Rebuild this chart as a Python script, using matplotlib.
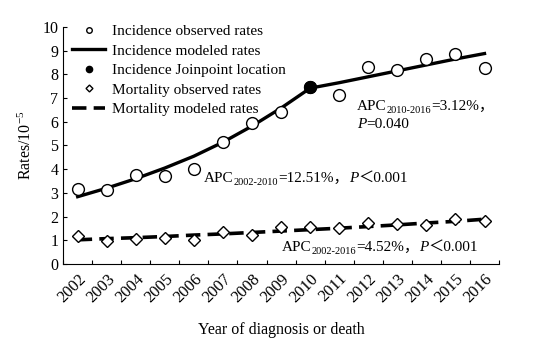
import matplotlib
matplotlib.use('Agg')
import matplotlib.pyplot as plt
from matplotlib import transforms
from matplotlib.lines import Line2D

plt.rcParams['font.family'] = ['Liberation Serif', 'Noto Sans CJK SC']
plt.rcParams['mathtext.fontset'] = 'custom'
plt.rcParams['mathtext.rm'] = 'Liberation Serif'
plt.rcParams['mathtext.it'] = 'Liberation Serif:italic'

years = ['2002', '2003', '2004', '2005', '2006', '2007', '2008', '2009',
         '2010', '2011', '2012', '2013', '2014', '2015', '2016']
inc_obs = [3.15, 3.12, 3.75, 3.73, 4.0, 5.16, 5.94, 6.43, 7.45, 7.13,
           8.3, 8.19, 8.65, 8.86, 8.28]
inc_model = [2.84, 3.2, 3.6, 4.05, 4.55, 5.14, 5.82, 6.58, 7.42, 7.65,
             7.9, 8.15, 8.4, 8.65, 8.88]
joinpoint_year = '2010'
joinpoint_value = 7.45
mort_obs = [1.2, 0.96, 1.05, 1.08, 1.01, 1.34, 1.22, 1.55, 1.56, 1.5,
            1.72, 1.67, 1.65, 1.9, 1.81]
mort_model = [1.02, 1.07, 1.11, 1.16, 1.22, 1.27, 1.33, 1.39, 1.45, 1.51,
              1.58, 1.65, 1.73, 1.8, 1.89]

fig = plt.figure(figsize=(5.49, 3.49), dpi=100)
ax = fig.add_axes([0.115, 0.2436, 0.794, 0.679])

x = list(range(len(years)))
jx = years.index(joinpoint_year)

ax.plot(x, inc_model, color='black', lw=2.4, zorder=2)
ax.plot(x, mort_model, color='black', lw=2.6, dashes=(4, 2), zorder=2)
ax.plot(x, inc_obs, 'o', ms=8.5, mfc='white', mec='black', mew=1.0, zorder=3)
ax.plot(x, mort_obs, 'D', ms=6.5, mfc='white', mec='black', mew=1.0, zorder=3)
ax.plot([jx], [joinpoint_value], 'o', ms=8.5, color='black', zorder=4)

ax.set_xlim(-0.5, len(years) - 0.5)
ax.set_ylim(0, 10)
ax.set_yticks(range(0, 11))
ax.set_xticks([i - 0.5 for i in range(len(years) + 1)])
ax.set_xticklabels([])
ax.set_xticks(x, minor=True)
ax.set_xticklabels(years, minor=True, rotation=45, ha='right', va='top',
                   rotation_mode='anchor', fontsize=12)
ax.tick_params(axis='x', which='minor', length=0, pad=5)
ax.tick_params(axis='both', which='major', direction='in', length=3,
               labelsize=11.5)
ax.spines['top'].set_visible(False)
ax.spines['right'].set_visible(False)

ax.set_xlabel('Year of diagnosis or death', fontsize=11.5, labelpad=12)
ax.set_ylabel('Rates/10$^{-5}$', fontsize=11.5, labelpad=5)

handles = [
    Line2D([], [], marker='o', ls='none', ms=4, mfc='white', mec='black'),
    Line2D([], [], color='black', lw=2.4),
    Line2D([], [], marker='o', ls='none', ms=4.5, color='black'),
    Line2D([], [], marker='D', ls='none', ms=3.5, mfc='white', mec='black'),
    Line2D([], [], color='black', lw=2.6, dashes=(4, 2)),
]
labels = ['Incidence observed rates', 'Incidence modeled rates',
          'Incidence Joinpoint location', 'Mortality observed rates',
          'Mortality modeled rates']
ax.legend(handles, labels, loc='upper left', bbox_to_anchor=(0.02, 1.01),
          frameon=False, fontsize=11, handlelength=2.2, handletextpad=0.4,
          labelspacing=0.38, borderpad=0, borderaxespad=0)


def chain(x0, y0, pieces):
    renderer = fig.canvas.get_renderer()
    dx = 0
    for s, size, dy, style in pieces:
        tr = transforms.offset_copy(ax.transData, fig=fig, x=dx, y=dy, units='dots')
        t = ax.text(x0, y0, s, transform=tr, fontsize=size, fontstyle=style,
                    ha='left', va='baseline')
        dx += t.get_window_extent(renderer).width


chain(9.61, 6.51, [('APC', 11, 0, 'normal'), ('2010-2016', 7.5, -3, 'normal'),
                   ('=3.12%，', 11, 0, 'normal')])
chain(9.61, 5.75, [('P', 11, 0, 'italic'), ('=0.040', 11, 0, 'normal')])
chain(4.35, 3.47, [('APC', 11, 0, 'normal'), ('2002-2010', 7.5, -3, 'normal'),
                   ('=12.51%，', 11, 0, 'normal'), ('P', 11, 0, 'italic'),
                   ('＜0.001', 11, 0, 'normal')])
chain(7.03, 0.56, [('APC', 11, 0, 'normal'), ('2002-2016', 7.5, -3, 'normal'),
                   ('=4.52%，', 11, 0, 'normal'), ('P', 11, 0, 'italic'),
                   ('＜0.001', 11, 0, 'normal')])

plt.savefig('out.png', dpi=100)
